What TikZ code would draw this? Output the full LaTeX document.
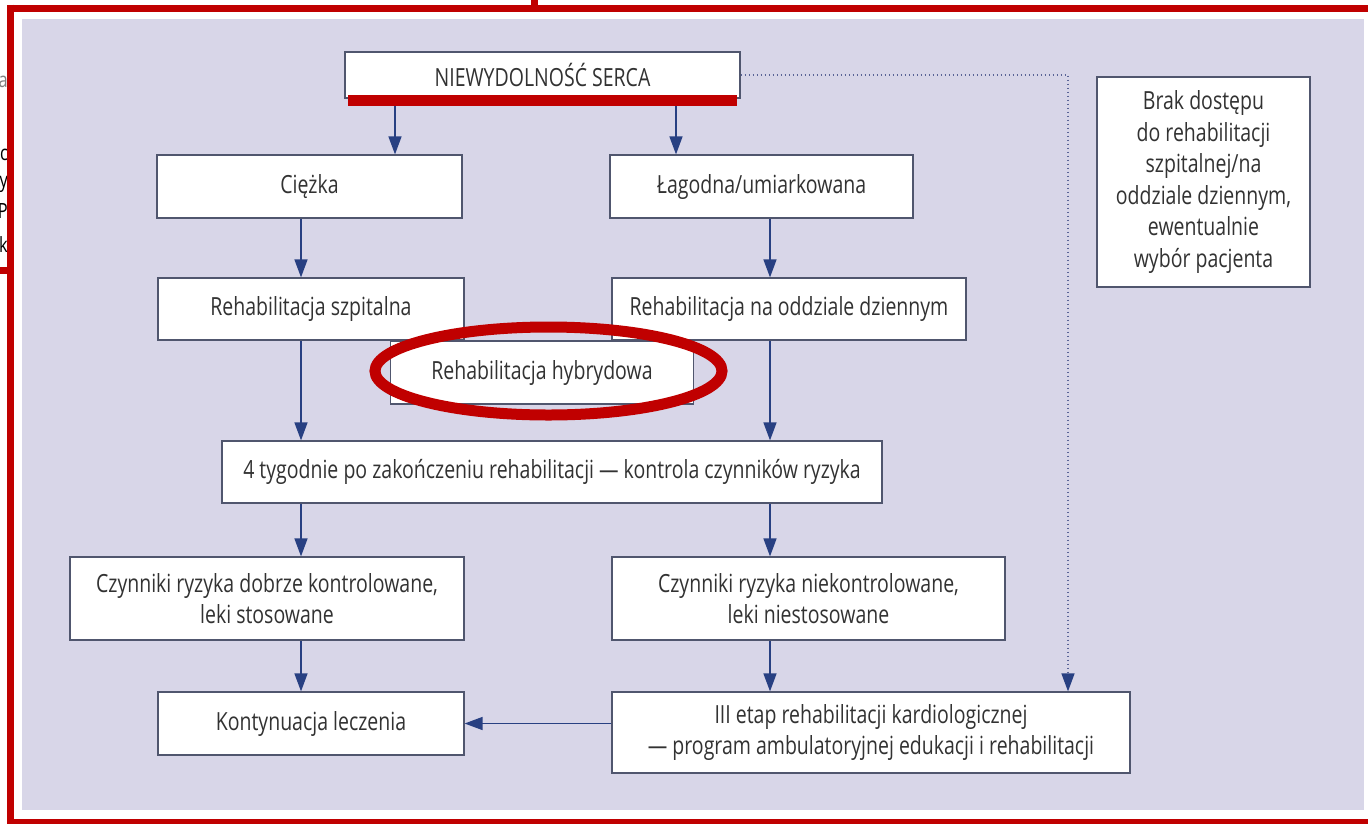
\documentclass[tikz,border=0pt]{standalone}
\usepackage{fontspec}
\setmainfont{Open Sans}[FakeStretch=0.78]
\usetikzlibrary{arrows.meta}
\definecolor{lav}{RGB}{216,214,232}
\definecolor{framered}{RGB}{192,0,0}
\definecolor{boxline}{RGB}{80,86,110}
\definecolor{arrc}{RGB}{40,64,130}
\definecolor{txt}{RGB}{50,50,50}
\definecolor{dotc}{RGB}{90,100,150}
\begin{document}
\begin{tikzpicture}[x=1pt,y=-1pt,
  box/.style={draw=boxline, fill=white, line width=1.2pt, inner sep=0pt, align=center, text=txt, font=\fontsize{25}{31.5}\selectfont},
  arr/.style={draw=arrc, line width=1.5pt, -{Triangle[length=18pt,width=13pt,fill=arrc]}},
  dotarr/.style={draw=dotc, line width=1.4pt, dash pattern=on 1.4pt off 2.6pt, -{Triangle[length=18pt,width=13pt,fill=arrc,color=arrc]}},
  redline/.style={draw=framered, line width=7pt},
  frag/.style={anchor=east, inner sep=0pt, font=\fontsize{21}{24}\selectfont}
]
\useasboundingbox (0,0) rectangle (1368,823);
\fill[white] (0,0) rectangle (1368,823);
% fragments of the page behind
\begin{scope}
  \clip (0,0) rectangle (7,266);
  \node[frag, text=gray] (fa) at (8,82) {a};
  \node[frag] (fc) at (8,155) {c};
  \node[frag] (fy) at (8,184) {y};
  \node[frag] (fp) at (8,211) {P};
  \node[frag] (fk) at (8,245) {k};
\end{scope}
% lavender panel
\fill[lav] (22,19) rectangle (1364,810);

% boxes
\node[box, minimum width=395pt, minimum height=46pt] (b1) at (542.5,75) {NIEWYDOLNOŚĆ SERCA};
\node[box, minimum width=305pt, minimum height=63pt] (b2) at (309.5,186.5) {Ciężka};
\node[box, minimum width=303pt, minimum height=63pt] (b3) at (761.5,186.5) {Łagodna/umiarkowana};
\node[box, minimum width=306pt, minimum height=62pt] (b4) at (311,309) {Rehabilitacja szpitalna};
\node[box, minimum width=354pt, minimum height=62pt] (b5) at (789,309) {Rehabilitacja na oddziale dziennym};
\node[box, minimum width=303pt, minimum height=63pt] (b6) at (542,372.5) {Rehabilitacja hybrydowa};
\node[box, minimum width=660pt, minimum height=62pt] (b7) at (552,472) {4 tygodnie po zakończeniu rehabilitacji — kontrola czynników ryzyka};
\node[box, minimum width=394pt, minimum height=83pt] (b8) at (267,598.5) {Czynniki ryzyka dobrze kontrolowane,\\leki stosowane};
\node[box, minimum width=393pt, minimum height=83pt] (b9) at (808.5,598.5) {Czynniki ryzyka niekontrolowane,\\leki niestosowane};
\node[box, minimum width=306pt, minimum height=63pt] (b10) at (311,723.5) {Kontynuacja leczenia};
\node[box, minimum width=518pt, minimum height=81pt] (b11) at (871,732.5) {III etap rehabilitacji kardiologicznej\\— program ambulatoryjnej edukacji i rehabilitacji};
\node[box, minimum width=213pt, minimum height=210pt] (b12) at (1203.5,182) {Brak dostępu\\do rehabilitacji\\szpitalnej/na\\oddziale dziennym,\\ewentualnie\\wybór pacjenta};

% arrows
\draw[arr] (395,0 |- b1.south) -- (395,0 |- b2.north);
\draw[arr] (676,0 |- b1.south) -- (676,0 |- b3.north);
\draw[arr] (301,0 |- b2.south) -- (301,0 |- b4.north);
\draw[arr] (770,0 |- b3.south) -- (770,0 |- b5.north);
\draw[arr] (301,0 |- b4.south) -- (301,0 |- b7.north);
\draw[arr] (770,0 |- b5.south) -- (770,0 |- b7.north);
\draw[arr] (301,0 |- b7.south) -- (301,0 |- b8.north);
\draw[arr] (770,0 |- b7.south) -- (770,0 |- b9.north);
\draw[arr] (301,0 |- b8.south) -- (301,0 |- b10.north);
\draw[arr] (770,0 |- b9.south) -- (770,0 |- b11.north);
\draw[arr] (b10.east -| b11.west) -- (b10.east);
\coordinate (dc) at (1068,75);
\draw[dotarr] (b1.east) -- (dc) -- (dc |- b11.north);

% red annotations
\fill[framered] (348,95) rectangle (737,106);
\draw[draw=framered, line width=11pt] (548.5,371) ellipse [x radius=173.5pt, y radius=44pt];
% red frame
\draw[redline] (7,8) -- (1368,8);
\draw[redline] (534,0) -- (534,8);
\draw[redline] (10.5,4.5) -- (10.5,823);
\draw[redline] (0,270.5) -- (10,270.5);
\draw[draw=framered, line width=5pt] (7,821) -- (1368,821);
\end{tikzpicture}
\end{document}
